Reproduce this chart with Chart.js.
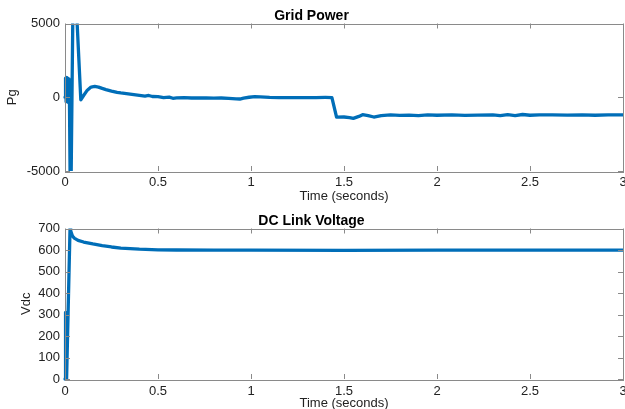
<!DOCTYPE html>
<html>
<head>
<meta charset="utf-8">
<script src="https://cdn.jsdelivr.net/npm/chart.js@4.4.1/dist/chart.umd.min.js"></script>
<style>
  html, body { margin: 0; padding: 0; background: #fff; overflow: hidden; }
  .plot { position: absolute; left: 0; width: 625px; }
  #top { top: 0; height: 205px; }
  #bottom { top: 205px; height: 210px; }
</style>
</head>
<body>
<div class="plot" id="top"><canvas id="pgChart" width="625" height="205"></canvas></div>
<div class="plot" id="bottom"><canvas id="vdcChart" width="625" height="210"></canvas></div>
<script>
// grid power (W) vs time (s)
const pgTime = [0, 0.003, 0.006, 0.009, 0.012, 0.015, 0.018, 0.021, 0.024, 0.030, 0.045, 0.050,
  0.085, 0.10, 0.12, 0.14, 0.16, 0.18, 0.20, 0.22, 0.25, 0.28, 0.30, 0.33, 0.36, 0.40, 0.43, 0.45,
  0.47, 0.50, 0.53, 0.56, 0.58, 0.60, 0.64, 0.68, 0.72, 0.76, 0.80, 0.84, 0.88, 0.92, 0.94, 0.96,
  0.99, 1.02, 1.05, 1.10, 1.15, 1.20, 1.25, 1.30, 1.35, 1.40, 1.435, 1.46, 1.50, 1.53, 1.55, 1.58,
  1.60, 1.63, 1.66, 1.70, 1.75, 1.80, 1.85, 1.90, 1.95, 2.00, 2.08, 2.15, 2.22, 2.30, 2.34, 2.38,
  2.42, 2.46, 2.50, 2.55, 2.62, 2.70, 2.78, 2.85, 2.92, 3.00];
const pgValue = [0, 1300, -300, 1350, -250, 1300, -350, 1250, -300, -9000, 9000, 9000,
  -170, 120, 480, 690, 730, 690, 600, 520, 420, 330, 290, 240, 190, 130, 80, 120,
  50, 40, -20, 10, -70, -40, -30, -50, -40, -50, -60, -50, -70, -110, -120, -60,
  0, 40, 20, -10, -20, -30, -20, -25, -20, -15, -20, -1350, -1340, -1380, -1430, -1300,
  -1180, -1250, -1340, -1240, -1200, -1230, -1210, -1240, -1200, -1220, -1200, -1230, -1210, -1190, -1250, -1180,
  -1240, -1170, -1220, -1200, -1190, -1210, -1200, -1220, -1190, -1200];

// dc link voltage (V) vs time (s)
const vdcTime = [0, 0.001, 0.002, 0.003, 0.004, 0.005, 0.006, 0.007, 0.008, 0.009, 0.010,
  0.027, 0.029, 0.032, 0.04, 0.05, 0.07, 0.10, 0.15, 0.20, 0.25, 0.30, 0.40, 0.50, 0.60, 0.80,
  1.00, 1.50, 2.00, 2.50, 3.00];
const vdcValue = [0, 300, 10, 310, 20, 300, 10, 305, 30, 290, 0,
  700, 705, 690, 665, 655, 645, 637, 628, 620, 614, 609, 604, 601, 600, 599,
  599, 598, 599, 599, 599];

const timeTicks = [0, 0.5, 1, 1.5, 2, 2.5, 3];

const lineBlue = 'rgb(0, 110, 184)';
const axisGray = '#8a8a8a';
const textColor = '#222';
const fontFamily = '"Liberation Sans", Arial, Helvetica, sans-serif';

Chart.defaults.font.family = fontFamily;
Chart.defaults.color = textColor;

function toPoints(xs, ys) {
  return xs.map((x, i) => ({ x: x, y: ys[i] }));
}

// matlab style box with inward ticks
const boxPlugin = {
  id: 'box',
  afterDraw(chart) {
    const { ctx, chartArea: a, scales } = chart;
    ctx.save();
    ctx.strokeStyle = axisGray;
    ctx.lineWidth = 1;
    ctx.strokeRect(Math.round(a.left) + 0.5, Math.round(a.top) + 0.5,
      Math.round(a.right - a.left), Math.round(a.bottom - a.top));
    const len = 5;
    ctx.beginPath();
    scales.x.ticks.forEach(t => {
      const px = Math.round(scales.x.getPixelForValue(t.value)) + 0.5;
      ctx.moveTo(px, a.bottom); ctx.lineTo(px, a.bottom - len);
      ctx.moveTo(px, a.top); ctx.lineTo(px, a.top + len);
    });
    scales.y.ticks.forEach(t => {
      const py = Math.round(scales.y.getPixelForValue(t.value)) + 0.5;
      ctx.moveTo(a.left, py); ctx.lineTo(a.left + len, py);
      ctx.moveTo(a.right, py); ctx.lineTo(a.right - len, py);
    });
    ctx.stroke();
    ctx.restore();
  }
};

function makeChart(id, points, title, yLabel, yMin, yMax, yStep, yTitlePad, xTickPad, xTitlePad, clipBottom) {
  return new Chart(document.getElementById(id), {
    type: 'line',
    data: {
      datasets: [{
        data: points,
        borderColor: lineBlue,
        borderWidth: 3.3,
        pointRadius: 0,
        tension: 0,
        fill: false,
        borderJoinStyle: 'round',
        borderCapStyle: 'round',
        clip: { left: 3, top: 0, right: 0, bottom: clipBottom }
      }]
    },
    options: {
      responsive: false,
      animation: false,
      layout: { padding: { left: 0, right: 2, top: 0, bottom: 0 } },
      plugins: {
        legend: { display: false },
        tooltip: { enabled: false },
        title: {
          display: true,
          text: title,
          color: '#000',
          font: { size: 14, weight: 'bold', lineHeight: 1 },
          padding: { top: 9.5, bottom: 0 }
        }
      },
      scales: {
        x: {
          type: 'linear',
          min: 0,
          max: 3,
          afterBuildTicks: s => { s.ticks = timeTicks.map(v => ({ value: v })); },
          afterFit: s => { s.height = 34 + (id === 'vdcChart' ? 2 : 0); s.paddingLeft = 0; s.paddingRight = 0; },
          grid: { display: false, drawTicks: false },
          border: { display: false },
          ticks: { padding: xTickPad, font: { size: 13 }, maxRotation: 0, callback: v => String(v) },
          title: { display: true, text: 'Time (seconds)', font: { size: 13 }, padding: { top: 0, bottom: xTitlePad } }
        },
        y: {
          min: yMin,
          max: yMax,
          afterFit: s => { s.width = 65; s.paddingTop = 0; s.paddingBottom = 0; },
          grid: { display: false, drawTicks: false },
          border: { display: false },
          ticks: { stepSize: yStep, padding: 5, font: { size: 13 }, callback: v => String(v) },
          title: { display: true, text: yLabel, font: { size: 13 }, padding: { top: yTitlePad, bottom: 0 } }
        }
      }
    },
    plugins: [boxPlugin]
  });
}

makeChart('pgChart', toPoints(pgTime, pgValue), 'Grid Power', 'Pg', -5000, 5000, 5000, 5, 4, 0.5, 0);
makeChart('vdcChart', toPoints(vdcTime, vdcValue), 'DC Link Voltage', 'Vdc', 0, 700, 100, 19, 4.5, 4, 2);
</script>
</body>
</html>
